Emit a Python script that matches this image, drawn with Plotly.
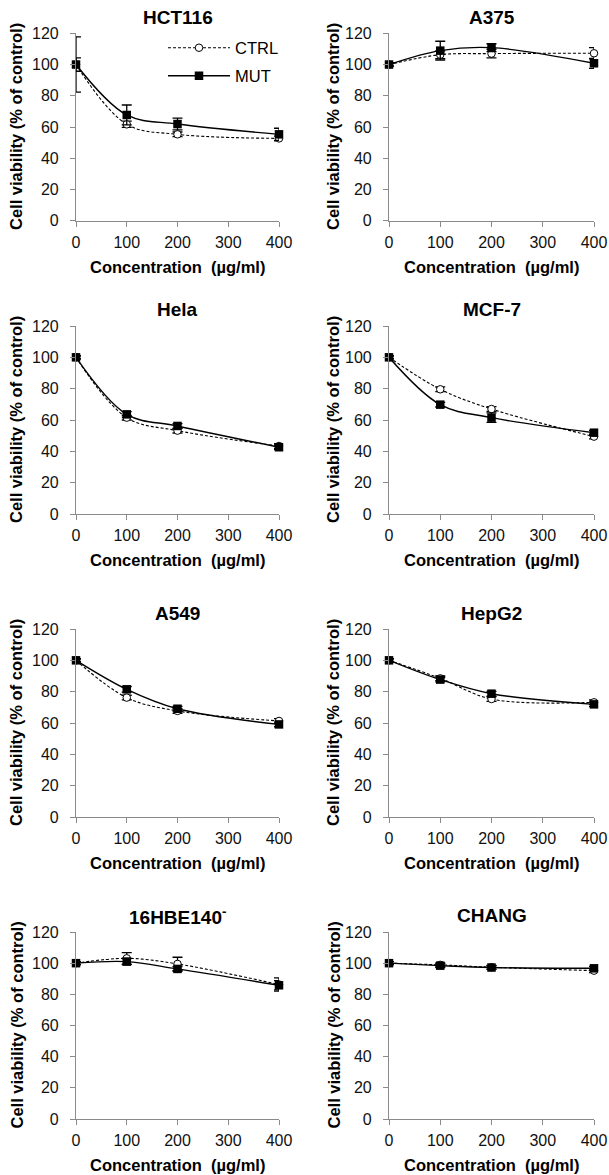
import plotly.graph_objects as go

# ---------------- data ----------------
conc = [0, 100, 200, 400]
x_ticks = [0, 100, 200, 300, 400]
y_ticks = [0, 20, 40, 60, 80, 100, 120]

panels = ["HCT116", "A375", "Hela", "MCF-7", "A549", "HepG2", "16HBE140<sup>-</sup>", "CHANG"]

ctrl_hct116 = [100, 61.7, 55.3, 52.7]
ctrl_hct116_err = [4.3, 2.0, 1.5, 1.5]
mut_hct116 = [100, 67.7, 61.9, 55.3]
mut_hct116_err = [17.7, 6.4, 3.8, 3.9]

ctrl_a375 = [100, 106.3, 107.0, 107.2]
ctrl_a375_err = [1.0, 2.5, 2.8, 3.6]
mut_a375 = [100, 108.9, 110.8, 100.8]
mut_a375_err = [1.0, 6.0, 2.5, 3.2]

ctrl_hela = [100, 61.5, 53.2, 43.4]
ctrl_hela_err = [1.0, 1.5, 1.5, 1.5]
mut_hela = [100, 63.6, 56.2, 42.6]
mut_hela_err = [1.0, 1.8, 1.5, 1.5]

ctrl_mcf7 = [100, 79.6, 67.0, 49.4]
ctrl_mcf7_err = [1.0, 1.5, 1.5, 1.5]
mut_mcf7 = [100, 69.8, 61.5, 51.9]
mut_mcf7_err = [1.0, 1.5, 3.0, 1.5]

ctrl_a549 = [100, 76.2, 67.7, 61.3]
ctrl_a549_err = [1.0, 1.5, 1.5, 1.5]
mut_a549 = [100, 81.5, 69.1, 59.1]
mut_a549_err = [1.0, 1.8, 1.5, 1.5]

ctrl_hepg2 = [100, 88.5, 75.3, 73.2]
ctrl_hepg2_err = [1.0, 1.5, 1.5, 1.5]
mut_hepg2 = [100, 87.7, 78.7, 71.9]
mut_hepg2_err = [1.0, 1.5, 1.5, 1.5]

ctrl_16hbe = [100, 103.1, 99.5, 86.3]
ctrl_16hbe_err = [1.0, 3.7, 4.3, 4.3]
mut_16hbe = [100, 101.0, 96.3, 85.8]
mut_16hbe_err = [1.0, 2.0, 1.5, 3.0]

ctrl_chang = [100, 98.9, 97.4, 95.2]
ctrl_chang_err = [1.0, 1.2, 1.2, 1.2]
mut_chang = [100, 98.4, 97.2, 96.7]
mut_chang_err = [1.0, 1.2, 1.2, 1.2]

ctrl_series = [ctrl_hct116, ctrl_a375, ctrl_hela, ctrl_mcf7, ctrl_a549, ctrl_hepg2, ctrl_16hbe, ctrl_chang]
ctrl_errs = [ctrl_hct116_err, ctrl_a375_err, ctrl_hela_err, ctrl_mcf7_err, ctrl_a549_err, ctrl_hepg2_err, ctrl_16hbe_err, ctrl_chang_err]
mut_series = [mut_hct116, mut_a375, mut_hela, mut_mcf7, mut_a549, mut_hepg2, mut_16hbe, mut_chang]
mut_errs = [mut_hct116_err, mut_a375_err, mut_hela_err, mut_mcf7_err, mut_a549_err, mut_hepg2_err, mut_16hbe_err, mut_chang_err]

# ---------------- layout geometry (pixels) ----------------
W, H = 609, 1175
FONT = "Liberation Sans, Arial, sans-serif"
AXC = "#8a8a8a"
col_x = [(76, 279), (389, 594)]
row_y = [(33.3, 220.7), (326, 514), (629, 817), (932, 1119)]
ytitle_x = [16, 333]


def px_x(p):
    return p / W


def px_y(p):
    return 1 - p / H


fig = go.Figure()
annotations = []
layout_axes = {}

for i, name in enumerate(panels):
    r, c = divmod(i, 2)
    k = i + 1
    xa = "x" if k == 1 else f"x{k}"
    ya = "y" if k == 1 else f"y{k}"
    xl, xr = col_x[c]
    yt, yb = row_y[r]

    fig.add_trace(go.Scatter(
        x=conc, y=ctrl_series[i], xaxis=xa, yaxis=ya, name="CTRL",
        mode="lines+markers", cliponaxis=False,
        line=dict(color="black", width=1.1, dash="3px,2px", shape="spline", smoothing=1),
        marker=dict(symbol="circle", size=7.5, color="white", line=dict(color="black", width=1)),
        error_y=dict(type="data", array=ctrl_errs[i], color="black", thickness=1.3, width=5),
        showlegend=(i == 0), legend="legend",
    ))
    fig.add_trace(go.Scatter(
        x=conc, y=mut_series[i], xaxis=xa, yaxis=ya, name="MUT",
        mode="lines+markers", cliponaxis=False,
        line=dict(color="black", width=1.4, shape="spline", smoothing=1),
        marker=dict(symbol="square", size=8.5, color="black", line=dict(color="black", width=0)),
        error_y=dict(type="data", array=mut_errs[i], color="black", thickness=1.3, width=5),
        showlegend=(i == 0), legend="legend2",
    ))

    xkey = "xaxis" if k == 1 else f"xaxis{k}"
    ykey = "yaxis" if k == 1 else f"yaxis{k}"
    layout_axes[xkey] = dict(
        domain=[px_x(xl), px_x(xr)], anchor=ya, range=[0, 400], automargin=False,
        tickmode="array", tickvals=x_ticks, ticks="outside", ticklen=5, tickwidth=1,
        tickcolor=AXC, showline=True, linecolor=AXC, linewidth=1.2,
        showgrid=False, zeroline=False, ticklabelstandoff=2,
        tickfont=dict(family=FONT, size=16, color="#111"),
    )
    layout_axes[ykey] = dict(
        domain=[px_y(yb), px_y(yt)], anchor=xa, range=[0, 120], automargin=False,
        tickmode="array", tickvals=y_ticks, ticks="outside", ticklen=5, tickwidth=1,
        tickcolor=AXC, showline=True, linecolor=AXC, linewidth=1.2,
        showgrid=False, zeroline=False, ticklabelstandoff=8,
        tickfont=dict(family=FONT, size=16, color="#111"),
    )
    # panel title
    annotations.append(dict(
        text=f"<b>{name}</b>", xref="paper", yref="paper",
        x=px_x((xl + xr) / 2), y=px_y(yt - 16), xanchor="center", yanchor="middle",
        showarrow=False, font=dict(family=FONT, size=19, color="black"),
    ))
    # x axis title
    annotations.append(dict(
        text="<b>Concentration  (µg/ml)</b>", xref="paper", yref="paper",
        x=px_x((xl + xr) / 2), y=px_y(yb + 46), xanchor="center", yanchor="middle",
        showarrow=False, font=dict(family=FONT, size=16.5, color="black"),
    ))
    # y axis title
    annotations.append(dict(
        text="<b>Cell viability (% of control)</b>", xref="paper", yref="paper",
        x=px_x(ytitle_x[c]), y=px_y((yt + yb) / 2), xanchor="center", yanchor="middle",
        textangle=-90, showarrow=False, font=dict(family=FONT, size=16.5, color="black"),
    ))

leg_common = dict(
    bgcolor="rgba(0,0,0,0)", borderwidth=0, itemwidth=62,
    font=dict(family=FONT, size=16.5, color="black"),
    xanchor="left", yanchor="middle", x=px_x(163),
)

fig.update_layout(
    template="none",
    width=W, height=H,
    margin=dict(l=0, r=0, t=0, b=0, autoexpand=False),
    paper_bgcolor="white", plot_bgcolor="white",
    font=dict(family=FONT, color="black"),
    annotations=annotations,
    legend=dict(**leg_common, y=px_y(48)),
    legend2=dict(**leg_common, y=px_y(76)),
    **layout_axes,
)

fig.write_html(
    "out.html",
    config={"displayModeBar": False},
    post_script="document.body.style.margin='0';document.body.style.padding='0';document.body.style.overflow='hidden';",
)
